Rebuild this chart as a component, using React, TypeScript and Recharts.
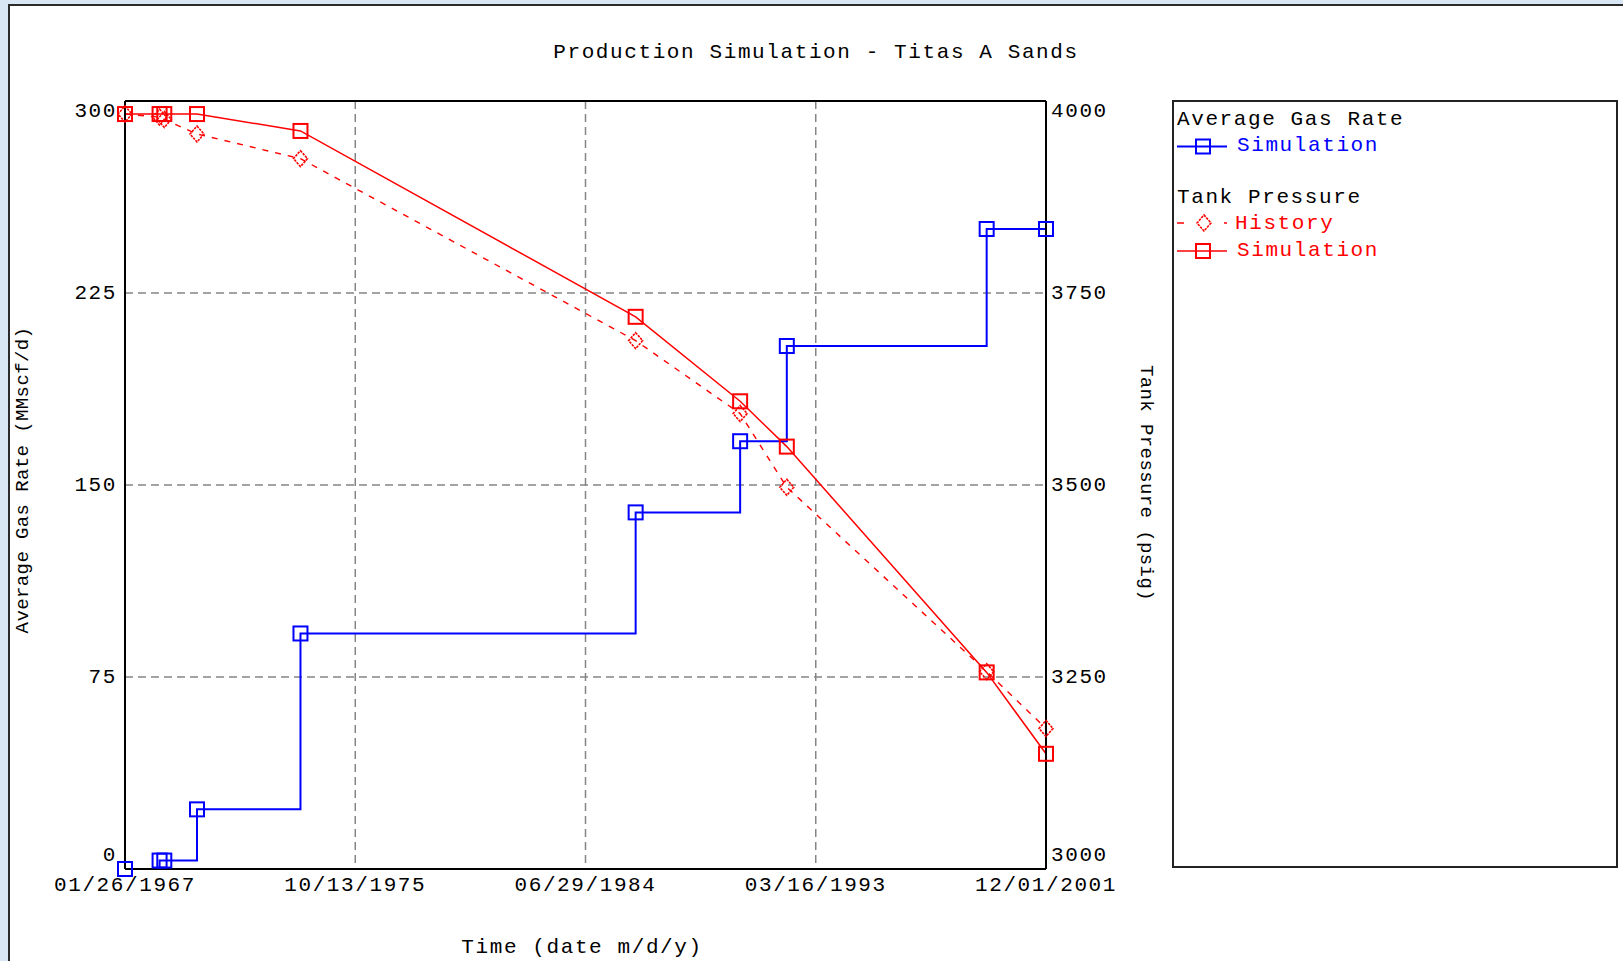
import React from 'react';
import { ComposedChart, Line, XAxis, YAxis, CartesianGrid, ReferenceLine } from 'recharts';

// sample dates (m/d/y) shared by every series
const sampleDates = [
  '01/26/1967', '05/18/1968', '07/22/1968', '10/17/1969', '09/16/1973',
  '05/23/1986', '05/06/1990', '02/10/1992', '09/03/1999', '12/01/2001',
];
// Average Gas Rate, simulation (MMscf/d)
const gasRateSim = [0, 3.3, 3.3, 23.3, 92, 139.3, 167.1, 204.3, 250, 250];
// Tank Pressure (psig)
const pressureHistory = [3983, 3979, 3976, 3957, 3925, 3688, 3593, 3497, 3257, 3183];
const pressureSim = [3983, 3983, 3983, 3983, 3961, 3719, 3609, 3550, 3256, 3150];

const timeTicks = ['01/26/1967', '10/13/1975', '06/29/1984', '03/16/1993', '12/01/2001'];
const rateTicks = [0, 75, 150, 225, 300];
const pressureTicks = [3000, 3250, 3500, 3750, 4000];

const FONT = "'Liberation Mono', 'Courier New', monospace";
const BLUE = '#0000ff';
const RED = '#ff0000';

const toTime = (s: string) => {
  const [m, d, y] = s.split('/').map(Number);
  return Date.UTC(y, m - 1, d);
};
const pad = (n: number) => String(n).padStart(2, '0');
const fmtDate = (t: number) => {
  const d = new Date(t);
  return `${pad(d.getUTCMonth() + 1)}/${pad(d.getUTCDate())}/${d.getUTCFullYear()}`;
};

const data = sampleDates.map((s, i) => ({
  t: toTime(s),
  rate: gasRateSim[i],
  history: pressureHistory[i],
  sim: pressureSim[i],
}));
const timeTickValues = timeTicks.map(toTime);

const labelStyle: React.CSSProperties = { fontFamily: FONT, fontSize: 21, letterSpacing: 1.6 };
const sideTitleStyle: React.CSSProperties = { fontFamily: FONT, fontSize: 19, letterSpacing: 0.4 };

// end labels sit inside the frame instead of centred on it
const edgeShift = (v: number, lo: number, hi: number) => (v === hi ? 10 : v === lo ? -14 : 0);

const RateTick = ({ x, y, payload }: any) => (
  <text x={x} y={y + edgeShift(payload.value, 0, 300)} textAnchor="end" dominantBaseline="central" fill="#000" style={labelStyle}>
    {payload.value}
  </text>
);

const PressureTick = ({ x, y, payload }: any) => (
  <text x={x} y={y + edgeShift(payload.value, 3000, 4000)} textAnchor="start" dominantBaseline="central" fill="#000" style={labelStyle}>
    {payload.value}
  </text>
);

const TimeTick = ({ x, y, payload }: any) => (
  <text x={x} y={y} textAnchor="middle" dominantBaseline="central" fill="#000" style={labelStyle}>
    {fmtDate(payload.value)}
  </text>
);

const Square = ({ cx, cy, color }: { cx: number; cy: number; color: string }) => (
  <rect x={cx - 7} y={cy - 7} width={14} height={14} fill="none" stroke={color} strokeWidth={2} />
);

const Diamond = ({ cx, cy, color }: { cx: number; cy: number; color: string }) => (
  <polygon
    points={`${cx},${cy - 8} ${cx + 7},${cy} ${cx},${cy + 8} ${cx - 7},${cy}`}
    fill="none"
    stroke={color}
    strokeWidth={1.6}
    strokeDasharray="2.5 1"
  />
);

const squareDot = (color: string) => (p: any) =>
  <Square key={`${p.dataKey}-${p.index}`} cx={p.cx} cy={p.cy} color={color} />;
const diamondDot = (color: string) => (p: any) =>
  <Diamond key={`${p.dataKey}-${p.index}`} cx={p.cx} cy={p.cy} color={color} />;

const Legend = () => (
  <g>
    <rect x={1173} y={101} width={444} height={766} fill="none" stroke="#222" strokeWidth={2} />
    <text x={1177} y={119} dominantBaseline="central" fill="#000" style={labelStyle}>Average Gas Rate</text>
    <line x1={1177} x2={1227} y1={146.5} y2={146.5} stroke={BLUE} strokeWidth={2} />
    <Square cx={1203} cy={146.5} color={BLUE} />
    <text x={1237} y={145} dominantBaseline="central" fill={BLUE} style={labelStyle}>Simulation</text>

    <text x={1177} y={197} dominantBaseline="central" fill="#000" style={labelStyle}>Tank Pressure</text>
    <line x1={1177} x2={1184} y1={223} y2={223} stroke={RED} strokeWidth={1.5} />
    <line x1={1224} x2={1227} y1={223} y2={223} stroke={RED} strokeWidth={1.5} />
    <Diamond cx={1204} cy={223} color={RED} />
    <text x={1235} y={223} dominantBaseline="central" fill={RED} style={labelStyle}>History</text>
    <line x1={1177} x2={1227} y1={251} y2={251} stroke={RED} strokeWidth={1.5} />
    <Square cx={1203} cy={251} color={RED} />
    <text x={1237} y={250} dominantBaseline="central" fill={RED} style={labelStyle}>Simulation</text>
  </g>
);

export default function App() {
  return (
    <div style={{ position: 'fixed', left: 0, top: 0, width: 1623, height: 961, overflow: 'hidden', background: '#d9e6f4' }}>
      <div
        style={{
          position: 'absolute', left: 8, top: 4, width: 1630, height: 970,
          background: '#fff', borderLeft: '2px solid #2b2b2b', borderTop: '2px solid #2b2b2b',
        }}
      />
      <div style={{ position: 'absolute', left: 0, top: 0 }}>
        <ComposedChart width={1623} height={961} data={data} margin={{ top: 101, right: 517, bottom: 52, left: 65 }}>
          <CartesianGrid yAxisId="rate" stroke="#858585" strokeWidth={1.5} strokeDasharray="8 5" />
          <XAxis
            dataKey="t"
            type="number"
            domain={[timeTickValues[0], timeTickValues[timeTickValues.length - 1]]}
            ticks={timeTickValues}
            interval={0}
            height={40}
            tickSize={0}
            tickMargin={16}
            tick={<TimeTick />}
            axisLine={{ stroke: '#000', strokeWidth: 2 }}
          />
          <YAxis
            yAxisId="rate"
            domain={[0, 300]}
            ticks={rateTicks}
            interval={0}
            width={60}
            tickSize={0}
            tickMargin={8}
            tick={<RateTick />}
            axisLine={{ stroke: '#000', strokeWidth: 2 }}
          />
          <YAxis
            yAxisId="pressure"
            orientation="right"
            domain={[3000, 4000]}
            ticks={pressureTicks}
            interval={0}
            width={60}
            tickSize={0}
            tickMargin={5}
            tick={<PressureTick />}
            axisLine={{ stroke: '#000', strokeWidth: 2 }}
          />
          <ReferenceLine yAxisId="rate" y={300} stroke="#000" strokeWidth={2} />
          <Line
            yAxisId="pressure"
            dataKey="history"
            type="linear"
            stroke={RED}
            strokeWidth={1.4}
            strokeDasharray="6 7"
            dot={diamondDot(RED)}
            activeDot={false}
            isAnimationActive={false}
          />
          <Line
            yAxisId="pressure"
            dataKey="sim"
            type="linear"
            stroke={RED}
            strokeWidth={1.5}
            dot={squareDot(RED)}
            activeDot={false}
            isAnimationActive={false}
          />
          <Line
            yAxisId="rate"
            dataKey="rate"
            type="stepAfter"
            stroke={BLUE}
            strokeWidth={2}
            dot={squareDot(BLUE)}
            activeDot={false}
            isAnimationActive={false}
          />
        </ComposedChart>
      </div>
      <svg width={1623} height={961} style={{ position: 'absolute', left: 0, top: 0, pointerEvents: 'none' }}>
        <text x={816} y={52} textAnchor="middle" dominantBaseline="central" fill="#000" style={labelStyle}>
          Production Simulation - Titas A Sands
        </text>
        <text x={582} y={947} textAnchor="middle" dominantBaseline="central" fill="#000" style={labelStyle}>
          Time (date m/d/y)
        </text>
        <text x={23} y={480} textAnchor="middle" dominantBaseline="central" fill="#000" style={sideTitleStyle} transform="rotate(-90 23 480)">
          Average Gas Rate (MMscf/d)
        </text>
        <text x={1146} y={483} textAnchor="middle" dominantBaseline="central" fill="#000" style={sideTitleStyle} transform="rotate(90 1146 483)">
          Tank Pressure (psig)
        </text>
        <Legend />
      </svg>
    </div>
  );
}
